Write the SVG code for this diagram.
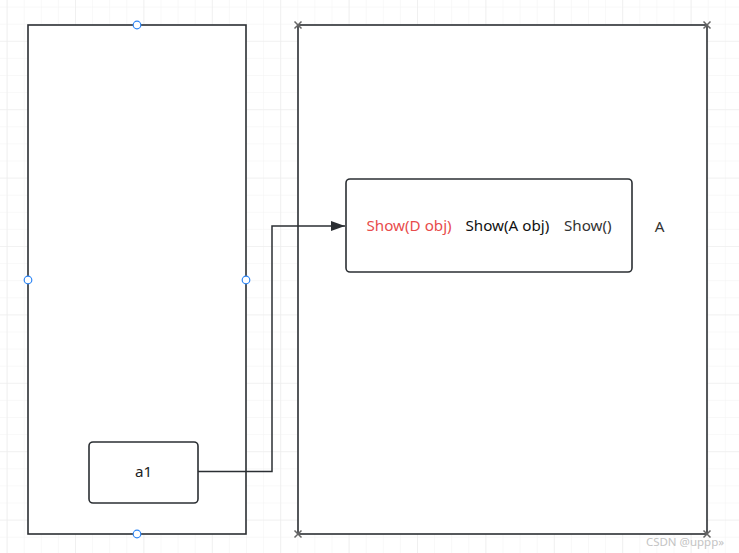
<svg xmlns="http://www.w3.org/2000/svg" width="739" height="553" viewBox="0 0 739 553">
  <defs>
    <pattern id="minor" x="6.6" y="6.6" width="17.1" height="17.1" patternUnits="userSpaceOnUse">
      <path d="M0 0H17.1M0 0V17.1" fill="none" stroke="#f2f2f2" stroke-width="1"/>
    </pattern>
    <pattern id="major" x="6.6" y="40.8" width="68.4" height="68.4" patternUnits="userSpaceOnUse">
      <path d="M0 0H68.4M0 0V68.4" fill="none" stroke="#ebebeb" stroke-width="1.2"/>
    </pattern>
    <marker id="arrow" viewBox="0 0 14 10" refX="14" refY="5" markerWidth="14" markerHeight="10" markerUnits="userSpaceOnUse" orient="auto">
      <path d="M0 0L14 5L0 10Z" fill="#2b2f33"/>
    </marker>
  </defs>
  <style>
    .box { fill: #ffffff; stroke: #2b2f33; stroke-width: 1.6; }
    .handle { fill: #ffffff; stroke: #2e86f5; stroke-width: 1.2; }
    .cross { stroke: #666666; stroke-width: 1.5; }
    .lbl { font-family: "Noto Sans", "Open Sans", "Liberation Sans", sans-serif; font-size: 15.2px; dominant-baseline: central; }
    .conn { fill: none; stroke: #2b2f33; stroke-width: 1.5; }
  </style>
  <rect width="739" height="553" fill="#ffffff"/>
  <rect width="739" height="553" fill="url(#minor)"/>
  <rect width="739" height="553" fill="url(#major)"/>

  <g id="left-container">
    <rect class="box" x="28" y="25" width="218" height="509"/>
    <circle class="handle" cx="137" cy="25" r="3.8"/>
    <circle class="handle" cx="28" cy="280" r="3.8"/>
    <circle class="handle" cx="246" cy="280" r="3.8"/>
    <circle class="handle" cx="137" cy="534" r="3.8"/>
  </g>

  <g id="right-container">
    <rect class="box" x="298" y="25" width="409" height="509"/>
    <path class="cross" d="M294.5 21.5L301.5 28.5M301.5 21.5L294.5 28.5"/>
    <path class="cross" d="M703.5 21.5L710.5 28.5M710.5 21.5L703.5 28.5"/>
    <path class="cross" d="M294.5 530.5L301.5 537.5M301.5 530.5L294.5 537.5"/>
    <path class="cross" d="M703.5 530.5L710.5 537.5M710.5 530.5L703.5 537.5"/>
  </g>

  <g id="methods">
    <rect class="box" x="346" y="179" width="286" height="93" rx="4"/>
    <text class="lbl" x="366.5" y="225" fill="#e84c4c">Show(D obj)</text>
    <text class="lbl" x="465.5" y="225" fill="#111111">Show(A obj)</text>
    <text class="lbl" x="564" y="225" fill="#333333">Show()</text>
  </g>

  <g id="label-A">
    <text class="lbl" x="659.5" y="226" fill="#333333" text-anchor="middle">A</text>
  </g>

  <g id="a1">
    <rect class="box" x="89" y="442" width="109" height="61" rx="4"/>
    <text class="lbl" x="143.5" y="471" fill="#222222" text-anchor="middle">a1</text>
  </g>

  <g id="connectors">
    <path class="conn" d="M198 471.5H272V226H345" marker-end="url(#arrow)"/>
  </g>

  <text x="685" y="541" fill="#c4c4c4" font-family="Noto Sans, Liberation Sans, sans-serif" font-size="11.5" text-anchor="middle" dominant-baseline="central">CSDN @uppp»</text>
</svg>
